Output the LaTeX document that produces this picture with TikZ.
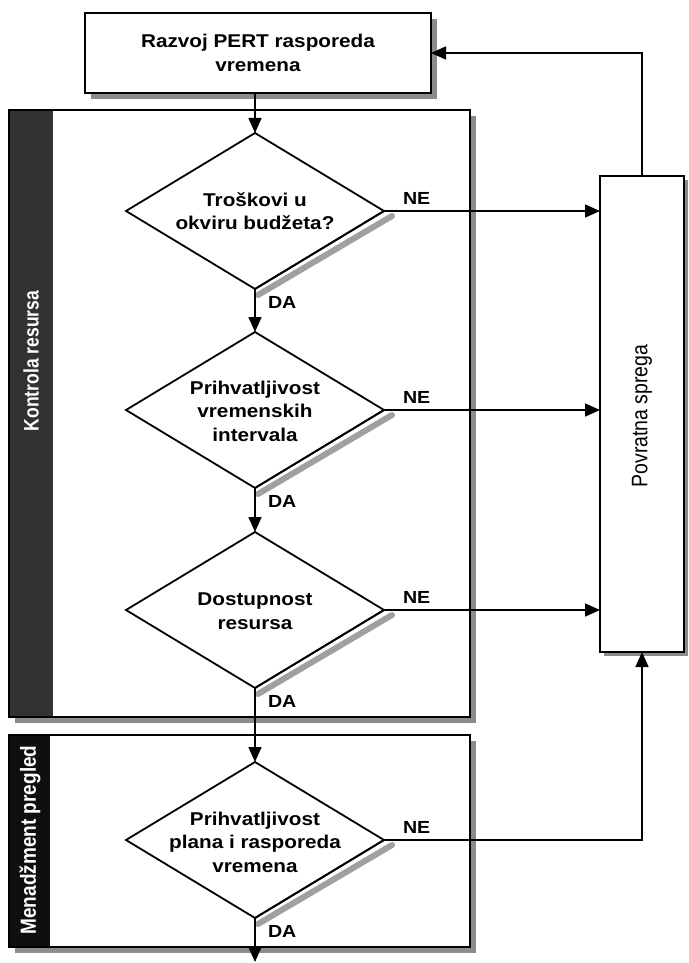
\documentclass[tikz,border=0pt]{standalone}
\usepackage{fontspec}
\usepackage{graphicx}
\setmainfont{Liberation Sans}
\newfontfamily\wfont[FakeStretch=1.12]{Liberation Sans}
\usetikzlibrary{shapes.geometric,arrows.meta}
\definecolor{kband}{RGB}{50,50,50}
\definecolor{mband}{RGB}{15,15,15}
\definecolor{shadowgray}{RGB}{140,140,140}
\definecolor{dshadow}{RGB}{160,160,160}
\pgfdeclarelayer{back}
\pgfdeclarelayer{boxes}
\pgfsetlayers{back,boxes,main}
\begin{document}
\begin{tikzpicture}[x=1pt,y=-1pt,
  every node/.style={inner sep=0pt,outer sep=0pt},
  ln/.style={line width=1.6pt},
  arr/.style={ln,-{Triangle[length=15pt,width=13pt]}},
  box/.style={draw,line width=1.6pt,fill=white,rectangle},
  dia/.style={diamond,draw,line width=1.8pt,fill=white,minimum width=258pt,minimum height=156pt},
  dtext/.style={align=center,font=\wfont\bfseries\fontsize{18.5}{23.5}\selectfont},
  lab/.style={font=\wfont\bfseries\fontsize{17.5}{20}\selectfont},
  sidetext/.style={rotate=90,text=white,font=\bfseries\fontsize{17.5}{20}\selectfont},
  dshape/.style={draw=dshadow,line width=6pt,line cap=round}
]
\useasboundingbox (0,0) rectangle (688,963);

\begin{pgfonlayer}{boxes}
% swimlane boxes
\node[box,minimum width=461pt,minimum height=607pt] (kr) at (239.5,413.5) {};
\fill[kband] (kr.north west) rectangle ([xshift=44pt]kr.south west);
\draw[line width=1.6pt] (kr.north west) rectangle (kr.south east);
\node[sidetext] (krt) at (31,361) {\scalebox{1}[1.2]{Kontrola resursa}};

\node[box,minimum width=461pt,minimum height=212pt] (mp) at (239.5,841) {};
\fill[mband] (mp.north west) rectangle ([xshift=41pt]mp.south west);
\draw[line width=1.6pt] (mp.north west) rectangle (mp.south east);
\node[sidetext,font=\bfseries\fontsize{19}{22}\selectfont] (mpt) at (30,840) {\scalebox{1}[1.15]{Menadžment pregled}};

% top box
\node[box,minimum width=346pt,minimum height=80pt,align=center,
  font=\wfont\bfseries\fontsize{18.5}{24}\selectfont] (tb) at (258,53) {Razvoj PERT rasporeda\\vremena};

% feedback box
\node[box,minimum width=84pt,minimum height=476pt] (fb) at (642,414) {};
\node[rotate=90,font=\fontsize{19.5}{22}\selectfont] (fbt) at (642,416) {\scalebox{1}[1.15]{Povratna sprega}};
\end{pgfonlayer}

\begin{pgfonlayer}{back}
\foreach \b/\s in {kr/6,mp/6,tb/6,fb/4}{
  \fill[shadowgray] ([xshift=\s pt,yshift=-\s pt]\b.north west) rectangle ([xshift=\s pt,yshift=-\s pt]\b.south east);
}
\end{pgfonlayer}

% diamonds
\node[dia] (d1) at (255,211) {};
\node[dia] (d2) at (255,410) {};
\node[dia] (d3) at (255,610) {};
\node[dia] (d4) at (255,840) {};

% diamond shadows (lower-right band)
\foreach \d in {d1,d2,d3,d4}{
  \draw[dshape] ([xshift=8pt,yshift=-5pt]\d.east) -- ([xshift=3pt,yshift=-6pt]\d.south);
}
\foreach \d in {d1,d2,d3,d4}{
  \draw[line width=1.8pt] (\d.east) -- (\d.south);
}

\node[dtext] (t1) at (255,211) {Troškovi u\\okviru budžeta?};
\node[dtext] (t2) at (255,411) {Prihvatljivost\\vremenskih\\intervala};
\node[dtext] (t3) at (255,611) {Dostupnost\\resursa};
\node[dtext] (t4) at (255,842) {Prihvatljivost\\plana i rasporeda\\vremena};

\coordinate (end) at (255,962);

% vertical flow
\draw[arr] (tb.south -| d1.north) -- (d1.north);
\draw[arr] (d1.south) -- (d2.north);
\draw[arr] (d2.south) -- (d3.north);
\draw[arr] (d3.south) -- (d4.north);
\draw[arr] (d4.south) -- (end);

% NE branches
\draw[arr] (d1.east) -- (d1.east -| fb.west);
\draw[arr] (d2.east) -- (d2.east -| fb.west);
\draw[arr] (d3.east) -- (d3.east -| fb.west);
\draw[arr] (d4.east) -| (fb.south);
\draw[arr] (fb.north) |- (tb.east);

% labels
\foreach \d in {d1,d2,d3,d4}{
  \node[lab,anchor=base west] (ne-\d) at ([xshift=19pt,yshift=7pt]\d.east) {NE};
  \node[lab,anchor=base west] (da-\d) at ([xshift=13pt,yshift=-19pt]\d.south) {DA};
}
\end{tikzpicture}
\end{document}
